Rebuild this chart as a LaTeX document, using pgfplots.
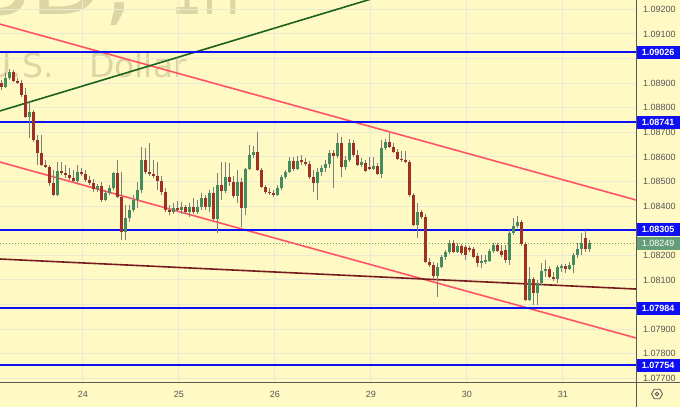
\documentclass[border=0pt]{standalone}
\usepackage{pgfplots}
\pgfplotsset{compat=1.18}
\usepackage{pgfplotstable}
\usepackage{fontspec}
\setmainfont{Liberation Sans}
\newfontfamily\wmfont{DejaVu Sans}
\definecolor{bg}{RGB}{255,249,196}
\definecolor{wm}{RGB}{220,214,164}
\definecolor{gridc}{RGB}{234,233,212}
\definecolor{labgray}{RGB}{85,85,85}
\definecolor{axcol}{RGB}{90,90,90}
\definecolor{upc}{RGB}{66,140,94}
\definecolor{dnc}{RGB}{160,48,36}
\definecolor{wick}{RGB}{125,125,125}
\definecolor{lblue}{RGB}{15,15,245}
\definecolor{tred}{RGB}{255,84,104}
\definecolor{tgreen}{RGB}{28,98,30}
\definecolor{tmaroon}{RGB}{118,28,28}
\definecolor{pgreen}{RGB}{100,158,118}

\pgfplotstableread{
i o h l c
1 1.08885 1.08941 1.08880 1.08920
2 1.08920 1.08957 1.08913 1.08945
7 1.08762 1.08823 1.08676 1.08783
14 1.08445 1.08579 1.08441 1.08543
19 1.08502 1.08567 1.08494 1.08539
24 1.08469 1.08490 1.08457 1.08482
26 1.08425 1.08465 1.08421 1.08453
27 1.08453 1.08486 1.08445 1.08473
28 1.08473 1.08539 1.08465 1.08535
31 1.08295 1.08405 1.08262 1.08352
32 1.08352 1.08405 1.08336 1.08384
33 1.08384 1.08445 1.08376 1.08425
34 1.08425 1.08498 1.08392 1.08465
35 1.08465 1.08640 1.08453 1.08587
43 1.08376 1.08413 1.08368 1.08392
45 1.08384 1.08417 1.08368 1.08396
47 1.08376 1.08413 1.08356 1.08396
49 1.08376 1.08425 1.08368 1.08396
50 1.08396 1.08453 1.08384 1.08433
52 1.08396 1.08465 1.08376 1.08453
54 1.08348 1.08535 1.08291 1.08486
56 1.08461 1.08579 1.08453 1.08518
59 1.08441 1.08547 1.08413 1.08498
61 1.08392 1.08554 1.08364 1.08551
62 1.08551 1.08649 1.08547 1.08608
63 1.08608 1.08645 1.08595 1.08620
69 1.08445 1.08486 1.08441 1.08473
70 1.08473 1.08527 1.08465 1.08518
71 1.08518 1.08547 1.08510 1.08539
72 1.08539 1.08599 1.08535 1.08583
74 1.08551 1.08603 1.08547 1.08583
79 1.08494 1.08554 1.08425 1.08539
80 1.08539 1.08567 1.08522 1.08554
81 1.08554 1.08587 1.08539 1.08571
82 1.08571 1.08628 1.08554 1.08616
84 1.08603 1.08697 1.08595 1.08657
86 1.08559 1.08603 1.08547 1.08587
87 1.08587 1.08673 1.08579 1.08657
90 1.08567 1.08595 1.08559 1.08579
93 1.08551 1.08599 1.08547 1.08563
95 1.08531 1.08669 1.08514 1.08636
96 1.08636 1.08673 1.08628 1.08661
104 1.08324 1.08413 1.08271 1.08376
109 1.08116 1.08169 1.08031 1.08153
110 1.08153 1.08202 1.08149 1.08193
111 1.08193 1.08222 1.08181 1.08214
112 1.08214 1.08262 1.08206 1.08250
114 1.08214 1.08250 1.08210 1.08238
120 1.08169 1.08202 1.08149 1.08177
121 1.08173 1.08202 1.08165 1.08181
122 1.08177 1.08226 1.08173 1.08218
123 1.08218 1.08250 1.08210 1.08242
127 1.08181 1.08303 1.08161 1.08291
128 1.08291 1.08352 1.08283 1.08320
129 1.08320 1.08360 1.08312 1.08336
132 1.08018 1.08153 1.08014 1.08104
134 1.08047 1.08100 1.07998 1.08088
135 1.08088 1.08169 1.08080 1.08136
136 1.08136 1.08181 1.08112 1.08144
139 1.08104 1.08161 1.08088 1.08153
140 1.08149 1.08165 1.08132 1.08157
142 1.08144 1.08173 1.08140 1.08161
143 1.08161 1.08210 1.08128 1.08202
144 1.08202 1.08250 1.08189 1.08226
145 1.08226 1.08291 1.08202 1.08250
147 1.08226 1.08262 1.08214 1.08249
}\upbars

\pgfplotstableread{
i o h l c
0 1.08901 1.08913 1.08872 1.08885
3 1.08945 1.08953 1.08905 1.08909
4 1.08909 1.08920 1.08897 1.08901
5 1.08901 1.08913 1.08844 1.08852
6 1.08852 1.08880 1.08758 1.08762
8 1.08783 1.08791 1.08661 1.08669
9 1.08669 1.08689 1.08567 1.08616
10 1.08616 1.08689 1.08563 1.08567
11 1.08567 1.08587 1.08554 1.08559
12 1.08559 1.08567 1.08482 1.08494
13 1.08494 1.08547 1.08441 1.08445
15 1.08543 1.08579 1.08527 1.08535
16 1.08535 1.08567 1.08514 1.08527
17 1.08527 1.08554 1.08506 1.08514
18 1.08514 1.08547 1.08494 1.08502
20 1.08539 1.08554 1.08522 1.08531
21 1.08531 1.08547 1.08498 1.08506
22 1.08506 1.08522 1.08486 1.08494
23 1.08494 1.08510 1.08457 1.08469
25 1.08482 1.08498 1.08417 1.08425
29 1.08535 1.08587 1.08433 1.08437
30 1.08437 1.08539 1.08262 1.08295
36 1.08587 1.08636 1.08531 1.08539
37 1.08539 1.08657 1.08522 1.08531
38 1.08531 1.08587 1.08514 1.08522
39 1.08522 1.08579 1.08465 1.08502
40 1.08502 1.08522 1.08445 1.08457
41 1.08457 1.08473 1.08376 1.08384
42 1.08384 1.08405 1.08364 1.08376
44 1.08392 1.08421 1.08376 1.08384
46 1.08396 1.08405 1.08368 1.08376
48 1.08396 1.08433 1.08368 1.08376
51 1.08433 1.08445 1.08384 1.08396
53 1.08453 1.08478 1.08344 1.08348
55 1.08486 1.08579 1.08425 1.08461
57 1.08518 1.08575 1.08482 1.08498
58 1.08498 1.08522 1.08433 1.08441
60 1.08498 1.08514 1.08316 1.08392
64 1.08620 1.08701 1.08543 1.08547
65 1.08547 1.08554 1.08473 1.08478
66 1.08478 1.08486 1.08449 1.08457
67 1.08457 1.08473 1.08445 1.08453
68 1.08453 1.08465 1.08437 1.08445
73 1.08583 1.08599 1.08543 1.08551
75 1.08587 1.08608 1.08567 1.08579
76 1.08579 1.08595 1.08563 1.08571
77 1.08571 1.08583 1.08510 1.08518
78 1.08518 1.08547 1.08457 1.08494
83 1.08616 1.08628 1.08473 1.08603
85 1.08657 1.08681 1.08518 1.08559
88 1.08657 1.08669 1.08599 1.08608
89 1.08608 1.08628 1.08563 1.08567
91 1.08575 1.08587 1.08539 1.08543
92 1.08559 1.08599 1.08547 1.08551
94 1.08563 1.08575 1.08527 1.08531
97 1.08661 1.08697 1.08636 1.08640
98 1.08640 1.08657 1.08616 1.08620
99 1.08620 1.08632 1.08587 1.08591
100 1.08591 1.08624 1.08579 1.08587
101 1.08587 1.08624 1.08575 1.08579
102 1.08579 1.08587 1.08437 1.08445
103 1.08445 1.08453 1.08320 1.08324
105 1.08376 1.08384 1.08348 1.08356
106 1.08356 1.08368 1.08169 1.08173
107 1.08173 1.08189 1.08153 1.08161
108 1.08161 1.08173 1.08108 1.08116
113 1.08250 1.08262 1.08210 1.08214
115 1.08238 1.08246 1.08202 1.08210
116 1.08234 1.08242 1.08181 1.08202
117 1.08230 1.08238 1.08214 1.08222
118 1.08226 1.08234 1.08189 1.08193
119 1.08197 1.08210 1.08153 1.08169
124 1.08242 1.08250 1.08214 1.08218
125 1.08218 1.08242 1.08193 1.08202
126 1.08222 1.08242 1.08169 1.08181
130 1.08336 1.08344 1.08238 1.08246
131 1.08246 1.08254 1.08014 1.08018
133 1.08104 1.08112 1.07998 1.08047
137 1.08144 1.08157 1.08108 1.08112
138 1.08112 1.08132 1.08096 1.08104
141 1.08157 1.08165 1.08128 1.08144
146 1.08271 1.08303 1.08214 1.08226
}\dnbars

\begin{document}
\begin{tikzpicture}[x=1pt,y=1pt]
\fill[bg] (0,0) rectangle (680,407);
% watermark
\node[anchor=base east, inner sep=0pt, text=wm, font=\wmfont\fontsize{95}{95}\selectfont] at (134,392) {EURUSD,};
\node[anchor=base west, inner sep=0pt, text=wm, font=\wmfont\fontsize{85}{85}\selectfont, xscale=0.6, transform shape] at (170,392) {1H};
\node[anchor=base east, inner sep=0pt, text=wm, font=\wmfont\fontsize{33}{33}\selectfont] at (54,329) {U.S.};
\node[anchor=base west, inner sep=0pt, text=wm, font=\wmfont\fontsize{33}{33}\selectfont] at (89,329) {Dollar};
\begin{axis}[
  at={(0pt,24pt)}, anchor=south west, scale only axis,
  width=636pt, height=383pt,
  xmin=-0.425, xmax=158.575, ymin=1.07681, ymax=1.09238,
  axis line style={draw=none},
  major tick length=0pt,
  scaled y ticks=false,
  ytick={1.077,1.078,1.079,1.080,1.081,1.082,1.083,1.084,1.085,1.086,1.087,1.088,1.089,1.090,1.091,1.092},
  yticklabels={1.07700,1.07800,1.07900,{},1.08100,1.08200,{},1.08400,1.08500,1.08600,1.08700,1.08800,1.08900,{},1.09100,1.09200},
  yticklabel pos=right,
  yticklabel style={anchor=west, inner sep=0pt, xshift=7pt, font=\fontsize{9}{10}\selectfont, text=labgray},
  xtick={20.3,44.3,68.3,92.3,116.3,140.3},
  xticklabels={24,25,26,29,30,31},
  xticklabel style={anchor=center, inner sep=0pt, yshift=-11pt, font=\fontsize{9}{10}\selectfont, text=labgray},
  grid=major, major grid style={draw=gridc, line width=1pt},
]
% trend lines
\addplot[tred, line width=1.6pt] coordinates {(-0.425,1.09140) (158.575,1.08425)};
\addplot[tred, line width=1.6pt] coordinates {(-0.425,1.08579) (158.575,1.07864)};
\addplot[tgreen, line width=1.6pt] coordinates {(-0.425,1.08787) (92.575,1.09243)};
\addplot[tmaroon, line width=1.6pt] coordinates {(-0.425,1.08185) (158.575,1.08063)};
% current price
\addplot[pgreen, line width=0.8pt, dash pattern=on 1pt off 2pt] coordinates {(-0.425,1.08249) (158.575,1.08249)};
% levels
\addplot[lblue, line width=2pt] coordinates {(-0.425,1.09026) (158.575,1.09026)};
\addplot[lblue, line width=2pt] coordinates {(-0.425,1.08741) (158.575,1.08741)};
\addplot[lblue, line width=2pt] coordinates {(-0.425,1.08305) (158.575,1.08305)};
\addplot[lblue, line width=2pt] coordinates {(-0.425,1.07984) (158.575,1.07984)};
\addplot[lblue, line width=2pt] coordinates {(-0.425,1.07754) (158.575,1.07754)};
% wicks
\addplot[wick, line width=1pt, quiver={u=0, v=\thisrow{h}-\thisrow{l}}] table[x=i, y=l] {\upbars};
\addplot[wick, line width=1pt, quiver={u=0, v=\thisrow{h}-\thisrow{l}}] table[x=i, y=l] {\dnbars};
% bodies
\addplot[upc, line width=2.8pt, line cap=butt, quiver={u=0, v=\thisrow{c}-\thisrow{o}}] table[x=i, y=o] {\upbars};
\addplot[dnc, line width=2.8pt, line cap=butt, quiver={u=0, v=\thisrow{c}-\thisrow{o}}] table[x=i, y=o] {\dnbars};
\coordinate (b1) at (axis cs:158.575,1.09026);
\coordinate (b2) at (axis cs:158.575,1.08741);
\coordinate (b3) at (axis cs:158.575,1.08305);
\coordinate (b4) at (axis cs:158.575,1.07984);
\coordinate (b5) at (axis cs:158.575,1.07754);
\coordinate (bp) at (axis cs:158.575,1.08249);
\end{axis}
\draw[axcol, line width=1pt] (636.5,0) -- (636.5,407);
\draw[axcol, line width=1pt] (0,24) -- (680,24);
\tikzset{pbox/.style={anchor=west, inner sep=0pt, minimum width=43pt, minimum height=13pt, text=white, font=\bfseries\fontsize{9}{10}\selectfont}}
\node[pbox, fill=lblue] at ([xshift=0.5pt]b1) {1.09026};
\node[pbox, fill=lblue] at ([xshift=0.5pt]b2) {1.08741};
\node[pbox, fill=lblue] at ([xshift=0.5pt]b3) {1.08305};
\node[pbox, fill=lblue] at ([xshift=0.5pt]b4) {1.07984};
\node[pbox, fill=lblue] at ([xshift=0.5pt]b5) {1.07754};
\node[pbox, fill=pgreen, font=\fontsize{9}{10}\selectfont] at ([xshift=0.5pt]bp) {1.08249};
% settings icon
\draw[labgray, line width=0.8pt] (657,13) circle (1.8);
\draw[labgray, line width=0.8pt] (657,13) +(0:5.5) -- +(60:5.5) -- +(120:5.5) -- +(180:5.5) -- +(240:5.5) -- +(300:5.5) -- cycle;
\pgfresetboundingbox
\path[use as bounding box] (0,0) rectangle (680,407);
\end{tikzpicture}
\end{document}
